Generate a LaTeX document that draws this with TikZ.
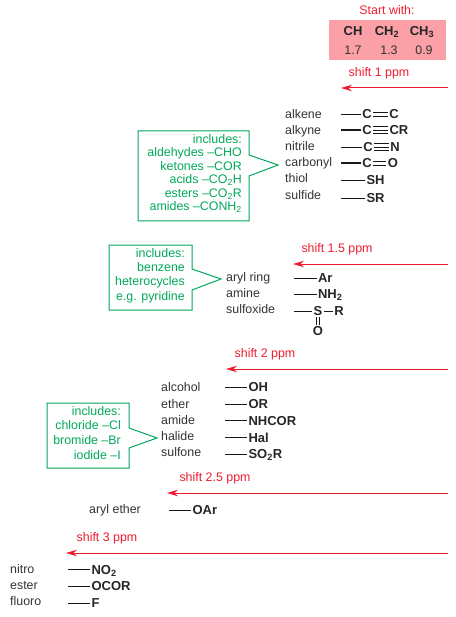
\documentclass[tikz,border=0pt]{standalone}
\usepackage{fontspec}
\setmainfont{Liberation Sans}
\usetikzlibrary{arrows.meta}
\definecolor{shiftred}{HTML}{ED1C2E}
\definecolor{boxpink}{HTML}{FAA0A6}
\definecolor{notegreen}{HTML}{00A85A}
\definecolor{inkgrey}{HTML}{333333}
\tikzset{
  lbl/.style={anchor=west,inner sep=0pt,text height=9pt,text depth=0pt,text=inkgrey,font=\fontsize{12.4}{13.4}\selectfont},
  grp/.style={anchor=west,inner sep=0pt,outer sep=1.5pt,text height=9pt,text depth=0pt,text=black!85,font=\fontsize{13}{14}\selectfont\bfseries},
  atom/.style={grp,anchor=center},
  bond/.style={draw=black!90,line width=0.8pt},
  hbond/.style={draw=black!90,line width=1.5pt},
  shifttxt/.style={text=shiftred,inner sep=0pt,font=\fontsize{12.4}{13.4}\selectfont},
  shiftarrow/.style={draw=shiftred,line width=1pt,-{Stealth[length=11pt,width=6.5pt]}},
  note/.style={anchor=north east,inner sep=0pt,align=right,text=notegreen,font=\fontsize{12.4}{13.5}\selectfont},
  notebox/.style={draw=notegreen,line width=1pt},
}
\begin{document}
\begin{tikzpicture}[x=1pt,y=-1pt]
  \useasboundingbox (0,0) rectangle (455,617);

  % start values
  \node[shifttxt] (start) at (387,10) {Start with:};
  \fill[boxpink] (329,20) rectangle (446,60);
  \node[atom] (ch) at (353,31) {CH};
  \node[atom] (chtwo) at (387,31) {CH\textsubscript{2}};
  \node[atom] (chthree) at (422,31) {CH\textsubscript{3}};
  \node[lbl,anchor=center] (vch) at (353,50) {1.7};
  \node[lbl,anchor=center] (vchtwo) at (389,50) {1.3};
  \node[lbl,anchor=center] (vchthree) at (424,50) {0.9};

  % shift 1
  \node[shifttxt] (shifta) at (379,73.5) {shift 1 ppm};
  \coordinate (ra) at (448,88);
  \coordinate (la) at (341,88);
  \draw[shiftarrow] (ra) -- (la);

  \node[lbl] (alkene) at (285,114) {alkene};
  \node[lbl] (alkyne) at (285,130) {alkyne};
  \node[lbl] (nitrile) at (285,146) {nitrile};
  \node[lbl] (carbonyl) at (285,162) {carbonyl};
  \node[lbl] (thiol) at (285,178) {thiol};
  \node[lbl] (sulfide) at (285,195) {sulfide};
  \coordinate (balkene) at (341,114);
  \coordinate (balkyne) at (341,130);
  \coordinate (bnitrile) at (341,147);
  \coordinate (bcarbonyl) at (341,163);
  \coordinate (bthiol) at (341,180);
  \coordinate (bsulfide) at (341,198);
  \node[atom] (ca) at (367,114) {C};
  \node[atom] (cb) at (394,114) {C};
  \node[atom] (cc) at (367,130) {C};
  \node[grp] (cr) at (388,130) {CR};
  \node[atom] (cd) at (368,147) {C};
  \node[atom] (nn) at (395,147) {N};
  \node[atom] (ce) at (367,163) {C};
  \node[atom] (oo) at (393,163) {O};
  \node[grp] (sh) at (365,180) {SH};
  \node[grp] (sr) at (365,198) {SR};
  \draw[bond] (balkene) -- (ca);
  \draw[hbond] (balkyne) -- (cc);
  \draw[bond] (bnitrile) -- (cd);
  \draw[hbond] (bcarbonyl) -- (ce);
  \draw[bond] (bthiol) -- (sh);
  \draw[bond] (bsulfide) -- (sr);
  \draw[bond] ([yshift=-2pt]ca.east) -- ([yshift=-2pt]cb.west);
  \draw[bond] ([yshift=2pt]ca.east) -- ([yshift=2pt]cb.west);
  \draw[bond] ([yshift=-3.5pt]cc.east) -- ([yshift=-3.5pt]cr.west);
  \draw[bond] (cc) -- (cr);
  \draw[bond] ([yshift=3.5pt]cc.east) -- ([yshift=3.5pt]cr.west);
  \draw[bond] ([yshift=-3.5pt]cd.east) -- ([yshift=-3.5pt]nn.west);
  \draw[bond] (cd) -- (nn);
  \draw[bond] ([yshift=3.5pt]cd.east) -- ([yshift=3.5pt]nn.west);
  \draw[bond] ([yshift=-2pt]ce.east) -- ([yshift=-2pt]oo.west);
  \draw[bond] ([yshift=2pt]ce.east) -- ([yshift=2pt]oo.west);

  \draw[notebox] (138,131) -- (249,131) -- (249,155) -- (278,165) -- (249,176) -- (249,221) -- (138,221) -- cycle;
  \node[note] (notea) at (242,134) {includes:\\aldehydes --CHO\\ketones --COR\\acids --CO\textsubscript{2}H\\esters --CO\textsubscript{2}R\\amides --CONH\textsubscript{2}};

  % shift 1.5
  \node[shifttxt] (shiftb) at (337,249.5) {shift 1.5 ppm};
  \coordinate (rb) at (448,264);
  \coordinate (lb) at (293,264);
  \draw[shiftarrow] (rb) -- (lb);

  \node[lbl] (aryl) at (226,277) {aryl ring};
  \node[lbl] (amine) at (226,293) {amine};
  \node[lbl] (sulfoxide) at (226,309) {sulfoxide};
  \coordinate (baryl) at (294,278);
  \coordinate (bamine) at (294,294);
  \coordinate (bsulfoxide) at (294,311);
  \node[grp] (ar) at (316.5,278) {Ar};
  \node[grp] (nh) at (316.5,294) {NH\textsubscript{2}};
  \node[atom] (ss) at (318,311) {S};
  \node[atom] (rr) at (339,311) {R};
  \node[atom] (ox) at (318,330.5) {O};
  \draw[bond] (baryl) -- (ar);
  \draw[bond] (bamine) -- (nh);
  \draw[bond] (bsulfoxide) -- (ss);
  \draw[bond] (ss) -- (rr);
  \draw[bond] ([xshift=-1.7pt]ss.south) -- ([xshift=-1.7pt]ox.north);
  \draw[bond] ([xshift=1.7pt]ss.south) -- ([xshift=1.7pt]ox.north);

  \draw[notebox] (109,245) -- (192,245) -- (192,269) -- (221,279) -- (192,290) -- (192,310) -- (109,310) -- cycle;
  \node[note,font=\fontsize{12.4}{14.4}\selectfont] (noteb) at (185,248) {includes:\\benzene\\heterocycles\\e.g. pyridine};

  % shift 2
  \node[shifttxt] (shiftc) at (265,354.5) {shift 2 ppm};
  \coordinate (rc) at (448,369);
  \coordinate (lc) at (226,369);
  \draw[shiftarrow] (rc) -- (lc);

  \node[lbl] (alcohol) at (161,387) {alcohol};
  \node[lbl] (ether) at (161,404) {ether};
  \node[lbl] (amide) at (161,420) {amide};
  \node[lbl] (halide) at (161,436) {halide};
  \node[lbl] (sulfone) at (161,452) {sulfone};
  \coordinate (balcohol) at (225,387);
  \coordinate (bether) at (225,404);
  \coordinate (bamide) at (225,420.5);
  \coordinate (bhalide) at (225,437.5);
  \coordinate (bsulfone) at (225,454);
  \node[grp] (oh) at (247,387) {OH};
  \node[grp] (or) at (247,404) {OR};
  \node[grp] (nhcor) at (247,420.5) {NHCOR};
  \node[grp] (hal) at (247,437.5) {Hal};
  \node[grp] (sotwo) at (247,454) {SO\textsubscript{2}R};
  \draw[bond] (balcohol) -- (oh);
  \draw[bond] (bether) -- (or);
  \draw[hbond] (bamide) -- (nhcor);
  \draw[bond] (bhalide) -- (hal);
  \draw[bond] (bsulfone) -- (sotwo);

  \draw[notebox] (47,403) -- (129,403) -- (129,428) -- (157,438) -- (129,448) -- (129,468) -- (47,468) -- cycle;
  \node[note,font=\fontsize{12.4}{14.8}\selectfont] (notec) at (121,406) {includes:\\chloride --Cl\\bromide --Br\\iodide --I};

  % shift 2.5
  \node[shifttxt] (shiftd) at (215,478.5) {shift 2.5 ppm};
  \coordinate (rd) at (448,493);
  \coordinate (ld) at (167,493);
  \draw[shiftarrow] (rd) -- (ld);

  \node[lbl] (arylether) at (89,509) {aryl ether};
  \coordinate (barylether) at (169,510);
  \node[grp] (oar) at (191,510) {OAr};
  \draw[bond] (barylether) -- (oar);

  % shift 3
  \node[shifttxt] (shifte) at (107,538.5) {shift 3 ppm};
  \coordinate (re) at (448,553);
  \coordinate (le) at (66,553);
  \draw[shiftarrow] (re) -- (le);

  \node[lbl] (nitro) at (10,569) {nitro};
  \node[lbl] (ester) at (10,585) {ester};
  \node[lbl] (fluoro) at (10,601) {fluoro};
  \coordinate (bnitro) at (68,569.5);
  \coordinate (bester) at (68,586);
  \coordinate (bfluoro) at (68,603);
  \node[grp] (notwo) at (90,569.5) {NO\textsubscript{2}};
  \node[grp] (ocor) at (90,586) {OCOR};
  \node[grp] (ff) at (90,603) {F};
  \draw[bond] (bnitro) -- (notwo);
  \draw[bond] (bester) -- (ocor);
  \draw[bond] (bfluoro) -- (ff);
\end{tikzpicture}
\end{document}
